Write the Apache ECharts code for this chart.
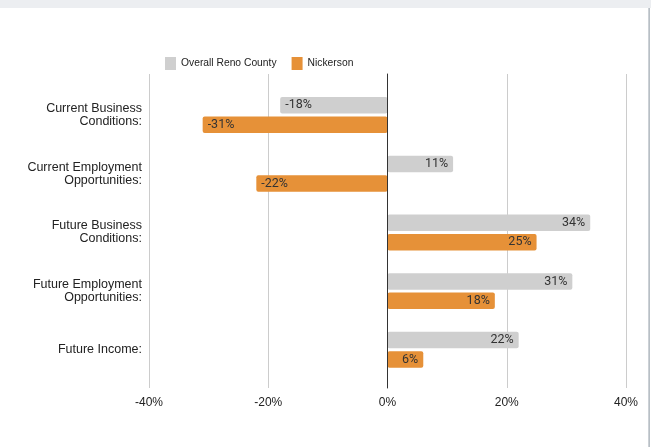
<!DOCTYPE html>
<html>
<head>
<meta charset="utf-8">
<script src="https://cdn.jsdelivr.net/npm/echarts@6/dist/echarts.min.js"></script>
<style>
  html, body { margin: 0; padding: 0; background: #fff; }
  #chart { width: 651px; height: 447px; }
</style>
</head>
<body>
<div id="chart"></div>
<script>
// data
var categories = [
  'Current Business\nConditions:',
  'Current Employment\nOpportunities:',
  'Future Business\nConditions:',
  'Future Employment\nOpportunities:',
  'Future Income:'
]
var overallReno = [-18, 11, 34, 31, 22]
var nickerson = [-31, -22, 25, 18, 6]
var xTicks = [-40, -20, 0, 20, 40]

var chart = echarts.init(document.getElementById('chart'))

function barLabel (v) {
  return {
    show: true,
    position: v < 0 ? 'insideLeft' : 'insideRight',
    distance: 5,
    formatter: '{c}%',
    color: '#333',
    fontFamily: 'Roboto',
    fontSize: 12.5
  }
}

function toItems (arr) {
  return arr.map(function (v) {
    return { value: v, label: barLabel(v) }
  })
}

var option = {
  backgroundColor: '#fff',
  textStyle: { fontFamily: 'Liberation Sans, Arial, sans-serif' },
  graphic: [
    { type: 'rect', shape: { x: 0, y: 0, width: 651, height: 8 }, style: { fill: '#eceef1' }, silent: true },
    { type: 'rect', shape: { x: 648.5, y: 8, width: 1.2, height: 439 }, style: { fill: '#9aa4ad' }, silent: true }
  ],
  legend: {
    left: 160,
    top: 52,
    icon: 'rect',
    itemWidth: 11,
    itemHeight: 13,
    itemGap: 15,
    textStyle: { fontSize: 10.3, color: '#222' },
    data: ['Overall Reno County', 'Nickerson']
  },
  grid: [
    { left: 149, right: 25, top: 74, bottom: 59 },
    { left: 149, right: 25, top: 85.6, bottom: 67.8 }
  ],
  xAxis: [
    {
      gridIndex: 0,
      type: 'value',
      min: xTicks[0],
      max: xTicks[xTicks.length - 1],
      interval: 20,
      axisLine: { show: false },
      axisTick: { show: false },
      axisLabel: { formatter: '{value}%', color: '#222', fontSize: 12, margin: 9 },
      splitLine: { lineStyle: { color: '#cccccc', width: 1 } }
    },
    {
      gridIndex: 1,
      type: 'value',
      min: xTicks[0],
      max: xTicks[xTicks.length - 1],
      show: false
    }
  ],
  yAxis: [
    {
      gridIndex: 0,
      type: 'value',
      min: 0,
      max: 1,
      z: 5,
      axisLine: { show: true, onZero: true, lineStyle: { color: '#333', width: 1 } },
      axisTick: { show: false },
      axisLabel: { show: false },
      splitLine: { show: false }
    },
    {
      gridIndex: 1,
      type: 'category',
      inverse: true,
      data: categories,
      axisLine: { show: false },
      axisTick: { show: false },
      axisLabel: { color: '#222', fontSize: 12.5, lineHeight: 13, margin: 7, align: 'right' },
      splitLine: { show: false }
    }
  ],
  series: [
    {
      name: 'Overall Reno County',
      type: 'bar',
      xAxisIndex: 1,
      yAxisIndex: 1,
      barWidth: 16.5,
      barGap: '18%',
      itemStyle: { color: '#cfcfcf', borderRadius: 2 },
      data: toItems(overallReno)
    },
    {
      name: 'Nickerson',
      type: 'bar',
      xAxisIndex: 1,
      yAxisIndex: 1,
      barWidth: 16.5,
      barGap: '18%',
      itemStyle: { color: '#e69138', borderRadius: 2 },
      data: toItems(nickerson)
    }
  ]
}
chart.setOption(option)
</script>
</body>
</html>
